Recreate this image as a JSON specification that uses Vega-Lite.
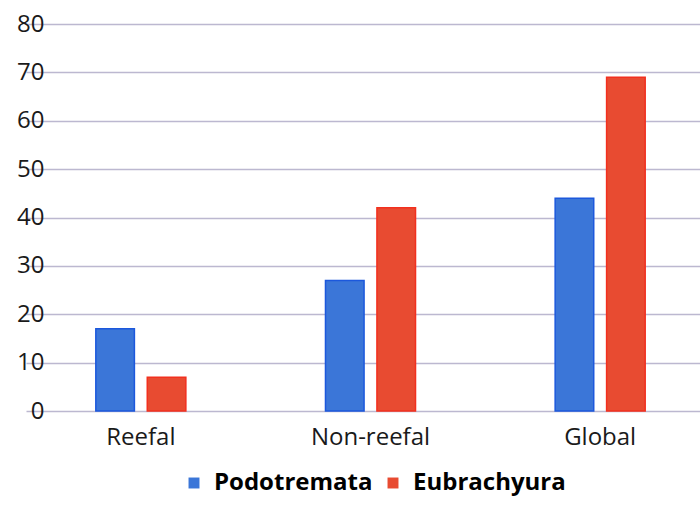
{
  "$schema": "https://vega.github.io/schema/vega-lite/v6.json",
  "autosize": "none",
  "padding": {"left": 52, "top": 24, "right": 0, "bottom": 100},
  "width": 648,
  "height": 387,
  "background": "white",
  "config": {"font": "Open Sans", "view": {"stroke": null}},
  "data": {"values": [
    {"region": "Reefal", "group": "Podotremata", "value": 17},
    {"region": "Reefal", "group": "Eubrachyura", "value": 7},
    {"region": "Non-reefal", "group": "Podotremata", "value": 27},
    {"region": "Non-reefal", "group": "Eubrachyura", "value": 42},
    {"region": "Global", "group": "Podotremata", "value": 44},
    {"region": "Global", "group": "Eubrachyura", "value": 69}
  ]},
  "mark": {"type": "bar", "strokeWidth": 1.5},
  "encoding": {
    "x": {
      "field": "region", "type": "nominal",
      "sort": ["Reefal", "Non-reefal", "Global"],
      "scale": {"range": [-26, 663], "paddingInner": 0.608, "paddingOuter": 0.304},
      "axis": {"title": null, "labelAngle": 0, "domain": false, "ticks": false,
               "labelFontSize": 24, "labelColor": "#1a1a1a", "labelPadding": 14}
    },
    "xOffset": {
      "field": "group", "type": "nominal",
      "sort": ["Podotremata", "Eubrachyura"],
      "scale": {"paddingInner": 0.25, "paddingOuter": 0}
    },
    "y": {
      "field": "value", "type": "quantitative",
      "scale": {"domain": [0, 80]},
      "axis": {"title": null, "values": [0, 10, 20, 30, 40, 50, 60, 70, 80],
               "domain": false, "ticks": false, "labelFontSize": 24,
               "labelColor": "#1a1a1a", "labelPadding": 8,
               "gridColor": "#bcb8d0", "gridWidth": 1.5, "gridOpacity": 1}
    },
    "color": {
      "field": "group", "type": "nominal",
      "sort": ["Podotremata", "Eubrachyura"],
      "scale": {"domain": ["Podotremata", "Eubrachyura"], "range": ["#3b76d8", "#e84b31"]},
      "legend": {"title": null, "orient": "none", "direction": "horizontal",
                 "legendX": 130, "legendY": 447, "symbolType": "square",
                 "symbolSize": 120, "symbolStrokeWidth": 0,
                 "labelFontSize": 24, "labelFontWeight": "bold", "labelColor": "#000000",
                 "labelOffset": 8, "columnPadding": 8, "symbolOpacity": 1}
    },
    "stroke": {
      "field": "group", "type": "nominal",
      "scale": {"domain": ["Podotremata", "Eubrachyura"], "range": ["#1c58dc", "#f2301e"]},
      "legend": null
    }
  }
}
